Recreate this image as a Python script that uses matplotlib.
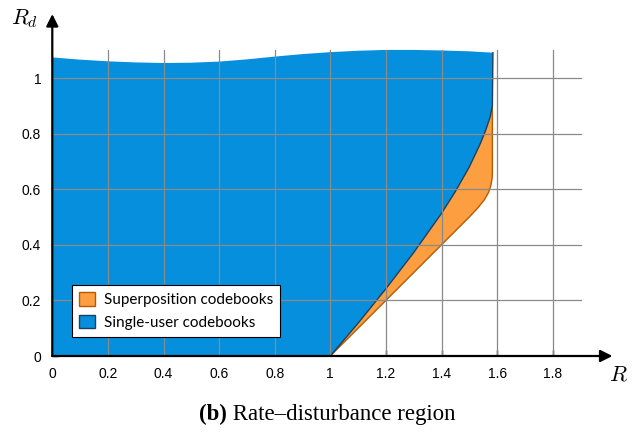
import matplotlib.pyplot as plt
from matplotlib.patches import Patch

# Upper boundary of the region (R, R_d)
top_r = [0.0, 0.1, 0.2, 0.3, 0.4, 0.5, 0.6, 0.7, 0.8, 0.9, 1.0, 1.1, 1.2, 1.3, 1.4, 1.5, 1.585]
top_rd = [1.074, 1.066, 1.060, 1.056, 1.054, 1.055, 1.059, 1.067, 1.077, 1.086, 1.093,
          1.098, 1.101, 1.101, 1.099, 1.096, 1.091]

# Lower boundary, single-user codebooks
su_r = [1.0, 1.1, 1.2, 1.3, 1.4, 1.45, 1.5, 1.54, 1.56, 1.575, 1.583]
su_rd = [0.0, 0.118, 0.242, 0.372, 0.513, 0.592, 0.68, 0.765, 0.815, 0.86, 0.9]

# Lower boundary, superposition codebooks
sp_r = [1.0, 1.2, 1.4, 1.45, 1.5, 1.53, 1.555, 1.57, 1.578, 1.582, 1.583, 1.583]
sp_rd = [0.0, 0.2, 0.4, 0.45, 0.5, 0.532, 0.563, 0.59, 0.615, 0.64, 0.66, 0.9]

xticks = [0, 0.2, 0.4, 0.6, 0.8, 1, 1.2, 1.4, 1.6, 1.8]
xticklabels = ['0', '0.2', '0.4', '0.6', '0.8', '1', '1.2', '1.4', '1.6', '1.8']
yticks = [0, 0.2, 0.4, 0.6, 0.8, 1]
yticklabels = ['0', '0.2', '0.4', '0.6', '0.8', '1']

blue = '#068fdd'
blue_edge = '#1c3f60'
orange = '#fd9e40'
orange_edge = '#b55a00'
grid_col = '#8a8a8a'

fig = plt.figure(figsize=(6.41, 4.38), dpi=100)
ax = fig.add_axes([52.3 / 641, 82 / 438, 2.06 * 278 / 641, 1.25 * 278 / 438])
ax.set_xlim(0, 2.06)
ax.set_ylim(0, 1.25)
for s in ax.spines.values():
    s.set_visible(False)

# orange region between the two lower boundaries
orange_x = list(sp_r) + list(su_r[::-1])
orange_y = list(sp_rd) + list(su_rd[::-1])
ax.fill(orange_x, orange_y, facecolor=orange, edgecolor='none', zorder=1)
ax.plot(sp_r, sp_rd, color=orange_edge, lw=1.0, zorder=2)

# blue region
blue_x = [0.0] + list(top_r) + list(su_r[::-1]) + [0.0]
blue_y = [0.0] + list(top_rd) + list(su_rd[::-1]) + [0.0]
ax.fill(blue_x, blue_y, facecolor=blue, edgecolor='none', zorder=2)
ax.plot(list(su_r) + [top_r[-1]], list(su_rd) + [top_rd[-1]], color=blue_edge, lw=1.0, zorder=3)

# grid
for x in xticks[1:]:
    ax.plot([x, x], [0, 1.1], color=grid_col, lw=0.9, zorder=4)
for y in yticks[1:]:
    ax.plot([0, 1.9], [y, y], color=grid_col, lw=0.9, zorder=4)

# axes with arrows
ax.annotate('', xy=(2.015, 0), xytext=(0, 0), annotation_clip=False,
            arrowprops=dict(arrowstyle='-|>', color='black', lw=1.6, mutation_scale=18, shrinkA=0, shrinkB=0),
            zorder=6)
ax.annotate('', xy=(0, 1.23), xytext=(0, 0), annotation_clip=False,
            arrowprops=dict(arrowstyle='-|>', color='black', lw=1.6, mutation_scale=18, shrinkA=0, shrinkB=0),
            zorder=6)

ax.set_xticks(xticks)
ax.set_xticklabels(xticklabels, family='Liberation Sans', fontsize=10)
ax.set_yticks(yticks)
ax.set_yticklabels(yticklabels, family='Liberation Sans', fontsize=10)
ax.tick_params(direction='in', length=4, width=1, pad=8)

ax.text(-0.1, 1.215, r'$R_d$', fontsize=16, ha='center', va='center', math_fontfamily='cm')
ax.text(2.035, -0.065, r'$R$', fontsize=16, ha='center', va='center', math_fontfamily='cm')

handles = [Patch(facecolor=orange, edgecolor=orange_edge, label='Superposition codebooks'),
           Patch(facecolor=blue, edgecolor=blue_edge, label='Single-user codebooks')]
leg = ax.legend(handles=handles, loc='lower left', bbox_to_anchor=(0.0339, 0.0555), borderaxespad=0,
                prop={'family': 'Lato', 'size': 11},
                fancybox=False, framealpha=1, edgecolor='black', handlelength=1.05, handleheight=1.0,
                borderpad=0.45, labelspacing=0.5, handletextpad=0.6)
leg.get_frame().set_linewidth(0.8)
leg.set_zorder(10)

# caption: bold "(b)" followed by regular text
cap_size = 16.5
t1 = fig.text(0, 0, '(b)', family='Liberation Serif', fontweight='bold', fontsize=cap_size)
t2 = fig.text(0, 0, ' Rate–disturbance region', family='Liberation Serif', fontsize=cap_size)
fig.canvas.draw()
r = fig.canvas.get_renderer()
w1 = t1.get_window_extent(r).width
w2 = t2.get_window_extent(r).width
x0 = 327 - (w1 + w2) / 2
ybase = (438 - 420) / 438
t1.set_position((x0 / 641, ybase))
t2.set_position(((x0 + w1) / 641, ybase))

fig.savefig('out.png', dpi=100)
